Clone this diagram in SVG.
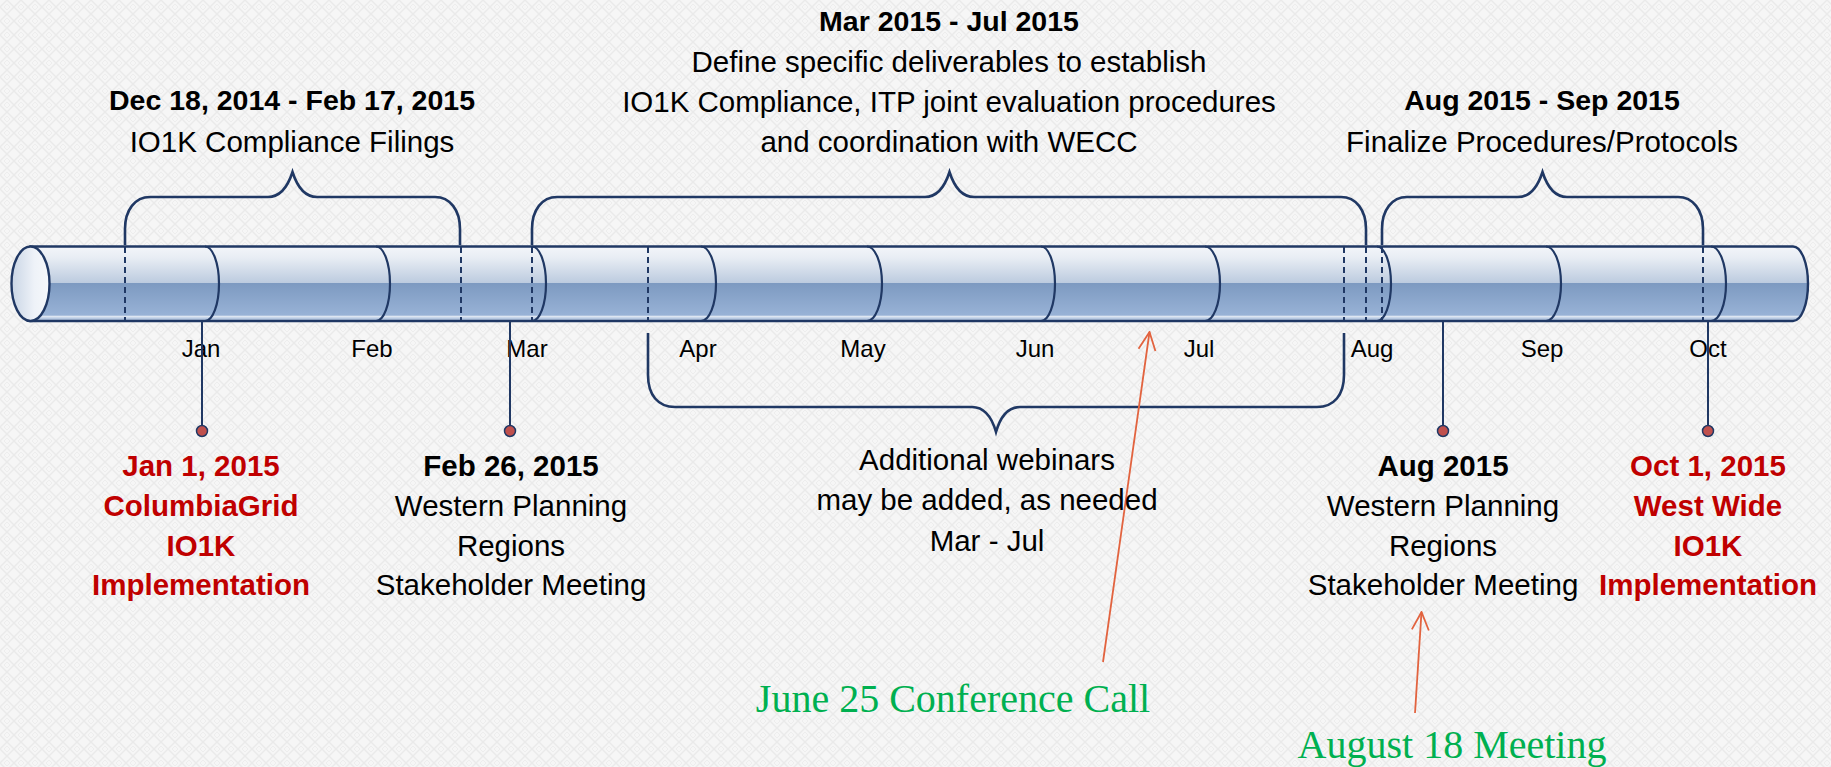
<svg xmlns="http://www.w3.org/2000/svg" width="1831" height="767" viewBox="0 0 1831 767">
<defs>
<style>
.t{font-family:"Liberation Sans",Arial,sans-serif;font-size:29.5px;fill:#000;text-anchor:middle}
.b{font-weight:bold}
.s{font-size:28.5px}
.red{fill:#c00000}
.m{font-family:"Liberation Sans",Arial,sans-serif;font-size:24px;fill:#000;text-anchor:middle}
.g{font-family:"Liberation Serif","Times New Roman",serif;font-size:40px;fill:#00b050;text-anchor:middle}
.nv{stroke:#203864;stroke-width:2.6;fill:none}
.arc{stroke:#203864;stroke-width:2.2;fill:none}
.dash{stroke:#203864;stroke-width:2;stroke-dasharray:6 4;fill:none}
.pin{stroke:#203864;stroke-width:2;fill:none}
.dot{fill:#c0504d;stroke:#203864;stroke-width:1.5}
.ra{stroke:#e2633f;stroke-width:1.8;fill:none}
</style>
<pattern id="bg" width="14" height="14" patternUnits="userSpaceOnUse">
<rect width="14" height="14" fill="#f6f6f6"/>
<path d="M7,0 L14,7 L7,14 L0,7 Z" fill="none" stroke="#eaeaea" stroke-width="1.4"/>
<path d="M7,4 L10,7 L7,10 L4,7 Z" fill="none" stroke="#ededed" stroke-width="1"/>
</pattern>
<linearGradient id="body" x1="0" y1="0" x2="0" y2="1">
<stop offset="0" stop-color="#f3f5f9"/>
<stop offset="0.15" stop-color="#e8edf4"/>
<stop offset="0.49" stop-color="#bccbdf"/>
<stop offset="0.495" stop-color="#7d9ac1"/>
<stop offset="0.92" stop-color="#98b2d6"/>
<stop offset="0.94" stop-color="#dfe7f2"/>
<stop offset="0.965" stop-color="#b7c9e2"/>
<stop offset="1" stop-color="#b7c9e2"/>
</linearGradient>
<linearGradient id="cap" x1="0" y1="0" x2="1" y2="0">
<stop offset="0" stop-color="#c9d5e5"/>
<stop offset="0.6" stop-color="#eef2f8"/>
<stop offset="1" stop-color="#f6f8fb"/>
</linearGradient>
<marker id="oa" markerWidth="20" markerHeight="20" refX="19" refY="10" orient="auto" markerUnits="userSpaceOnUse" viewBox="0 0 20 20">
<path d="M1,1.5 L19,10 L1,18.5" fill="none" stroke="#e2633f" stroke-width="1.8"/>
</marker>
</defs>
<rect width="1831" height="767" fill="url(#bg)"/>

<g id="timeline">
<path d="M30.5,246.5 H1793 A15 37.25 0 0 1 1793,321 H30.5 Z" fill="url(#body)" stroke="#203864" stroke-width="2.4"/>
<ellipse cx="30.5" cy="283.75" rx="19" ry="37.25" fill="url(#cap)" stroke="#203864" stroke-width="2.4"/>
<g class="arc">
<path d="M205,246.5 A14 37.25 0 0 1 205,321"/>
<path d="M376,246.5 A14 37.25 0 0 1 376,321"/>
<path d="M532,246.5 A14 37.25 0 0 1 532,321"/>
<path d="M701,246.5 A15 37.25 0 0 1 701,321"/>
<path d="M867,246.5 A15 37.25 0 0 1 867,321"/>
<path d="M1041,246.5 A14 37.25 0 0 1 1041,321"/>
<path d="M1205,246.5 A15 37.25 0 0 1 1205,321"/>
<path d="M1377,246.5 A14 37.25 0 0 1 1377,321"/>
<path d="M1546,246.5 A15 37.25 0 0 1 1546,321"/>
<path d="M1711,246.5 A15 37.25 0 0 1 1711,321"/>
</g>
<g class="dash">
<path d="M125,247 V321"/>
<path d="M461,247 V321"/>
<path d="M532,247 V321"/>
<path d="M648,247 V321"/>
<path d="M1344,247 V321"/>
<path d="M1366,247 V321"/>
<path d="M1382,247 V321"/>
<path d="M1703,247 V321"/>
</g>
<g id="months">
<text class="m" x="201" y="357">Jan</text>
<text class="m" x="372" y="357">Feb</text>
<text class="m" x="527" y="357">Mar</text>
<text class="m" x="698" y="357">Apr</text>
<text class="m" x="863" y="357">May</text>
<text class="m" x="1035" y="357">Jun</text>
<text class="m" x="1199" y="357">Jul</text>
<text class="m" x="1372" y="357">Aug</text>
<text class="m" x="1542" y="357">Sep</text>
<text class="m" x="1708" y="357">Oct</text>
</g>
</g>

<g id="connectors">
<path class="nv" d="M125,245 V229 C125,210 135,197 150,197 H268 C281,197 288,186 292.5,172 C297,186 304,197 317,197 H435 C450,197 460,210 460,229 V245"/>
<path class="nv" d="M532,245 V229 C532,210 542,197 557,197 H925 C938,197 945,186 949.5,172 C954,186 961,197 974,197 H1341 C1356,197 1366,210 1366,229 V245"/>
<path class="nv" d="M1382,245 V229 C1382,210 1392,197 1407,197 H1518 C1531,197 1538,186 1542.5,172 C1547,186 1554,197 1567,197 H1678 C1693,197 1703,210 1703,229 V245"/>
<path class="nv" d="M648,333 V375 C648,395 658,407 675,407 H972 C985,407 992,418 996,432 C1000,418 1007,407 1020,407 H1317 C1334,407 1344,395 1344,375 V333"/>
<path class="pin" d="M202,322 V426"/>
<path class="pin" d="M510,322 V426"/>
<path class="pin" d="M1443,322 V426"/>
<path class="pin" d="M1708,322 V426"/>
<circle class="dot" cx="202" cy="431" r="5.5"/>
<circle class="dot" cx="510" cy="431" r="5.5"/>
<circle class="dot" cx="1443" cy="431" r="5.5"/>
<circle class="dot" cx="1708" cy="431" r="5.5"/>
<path class="ra" d="M1103,662 L1149.5,332" marker-end="url(#oa)"/>
<path class="ra" d="M1415,713 L1421.5,612" marker-end="url(#oa)"/>
</g>

<g id="phase-filings">
<text class="t b s" x="292" y="110">Dec 18, 2014 - Feb 17, 2015</text>
<text class="t" x="292" y="152">IO1K Compliance Filings</text>
</g>
<g id="phase-define">
<text class="t b s" x="949" y="31">Mar 2015 - Jul 2015</text>
<text class="t" x="949" y="72">Define specific deliverables to establish</text>
<text class="t" x="949" y="112">IO1K Compliance, ITP joint evaluation procedures</text>
<text class="t" x="949" y="152">and coordination with WECC</text>
</g>
<g id="phase-finalize">
<text class="t b s" x="1542" y="110">Aug 2015 - Sep 2015</text>
<text class="t" x="1542" y="152">Finalize Procedures/Protocols</text>
</g>
<g id="milestone-jan">
<text class="t b red" x="201" y="476">Jan 1, 2015</text>
<text class="t b red" x="201" y="516">ColumbiaGrid</text>
<text class="t b red" x="201" y="556">IO1K</text>
<text class="t b red" x="201" y="595">Implementation</text>
</g>
<g id="milestone-feb">
<text class="t b" x="511" y="476">Feb 26, 2015</text>
<text class="t" x="511" y="516">Western Planning</text>
<text class="t" x="511" y="556">Regions</text>
<text class="t" x="511" y="595">Stakeholder Meeting</text>
</g>
<g id="webinars">
<text class="t" x="987" y="470">Additional webinars</text>
<text class="t" x="987" y="510">may be added, as needed</text>
<text class="t" x="987" y="551">Mar - Jul</text>
</g>
<g id="milestone-aug">
<text class="t b" x="1443" y="476">Aug 2015</text>
<text class="t" x="1443" y="516">Western Planning</text>
<text class="t" x="1443" y="556">Regions</text>
<text class="t" x="1443" y="595">Stakeholder Meeting</text>
</g>
<g id="milestone-oct">
<text class="t b red" x="1708" y="476">Oct 1, 2015</text>
<text class="t b red" x="1708" y="516">West Wide</text>
<text class="t b red" x="1708" y="556">IO1K</text>
<text class="t b red" x="1708" y="595">Implementation</text>
</g>
<g id="note-june">
<text class="g" x="953" y="712">June 25 Conference Call</text>
</g>
<g id="note-august">
<text class="g" x="1452" y="758">August 18 Meeting</text>
</g>
</svg>
